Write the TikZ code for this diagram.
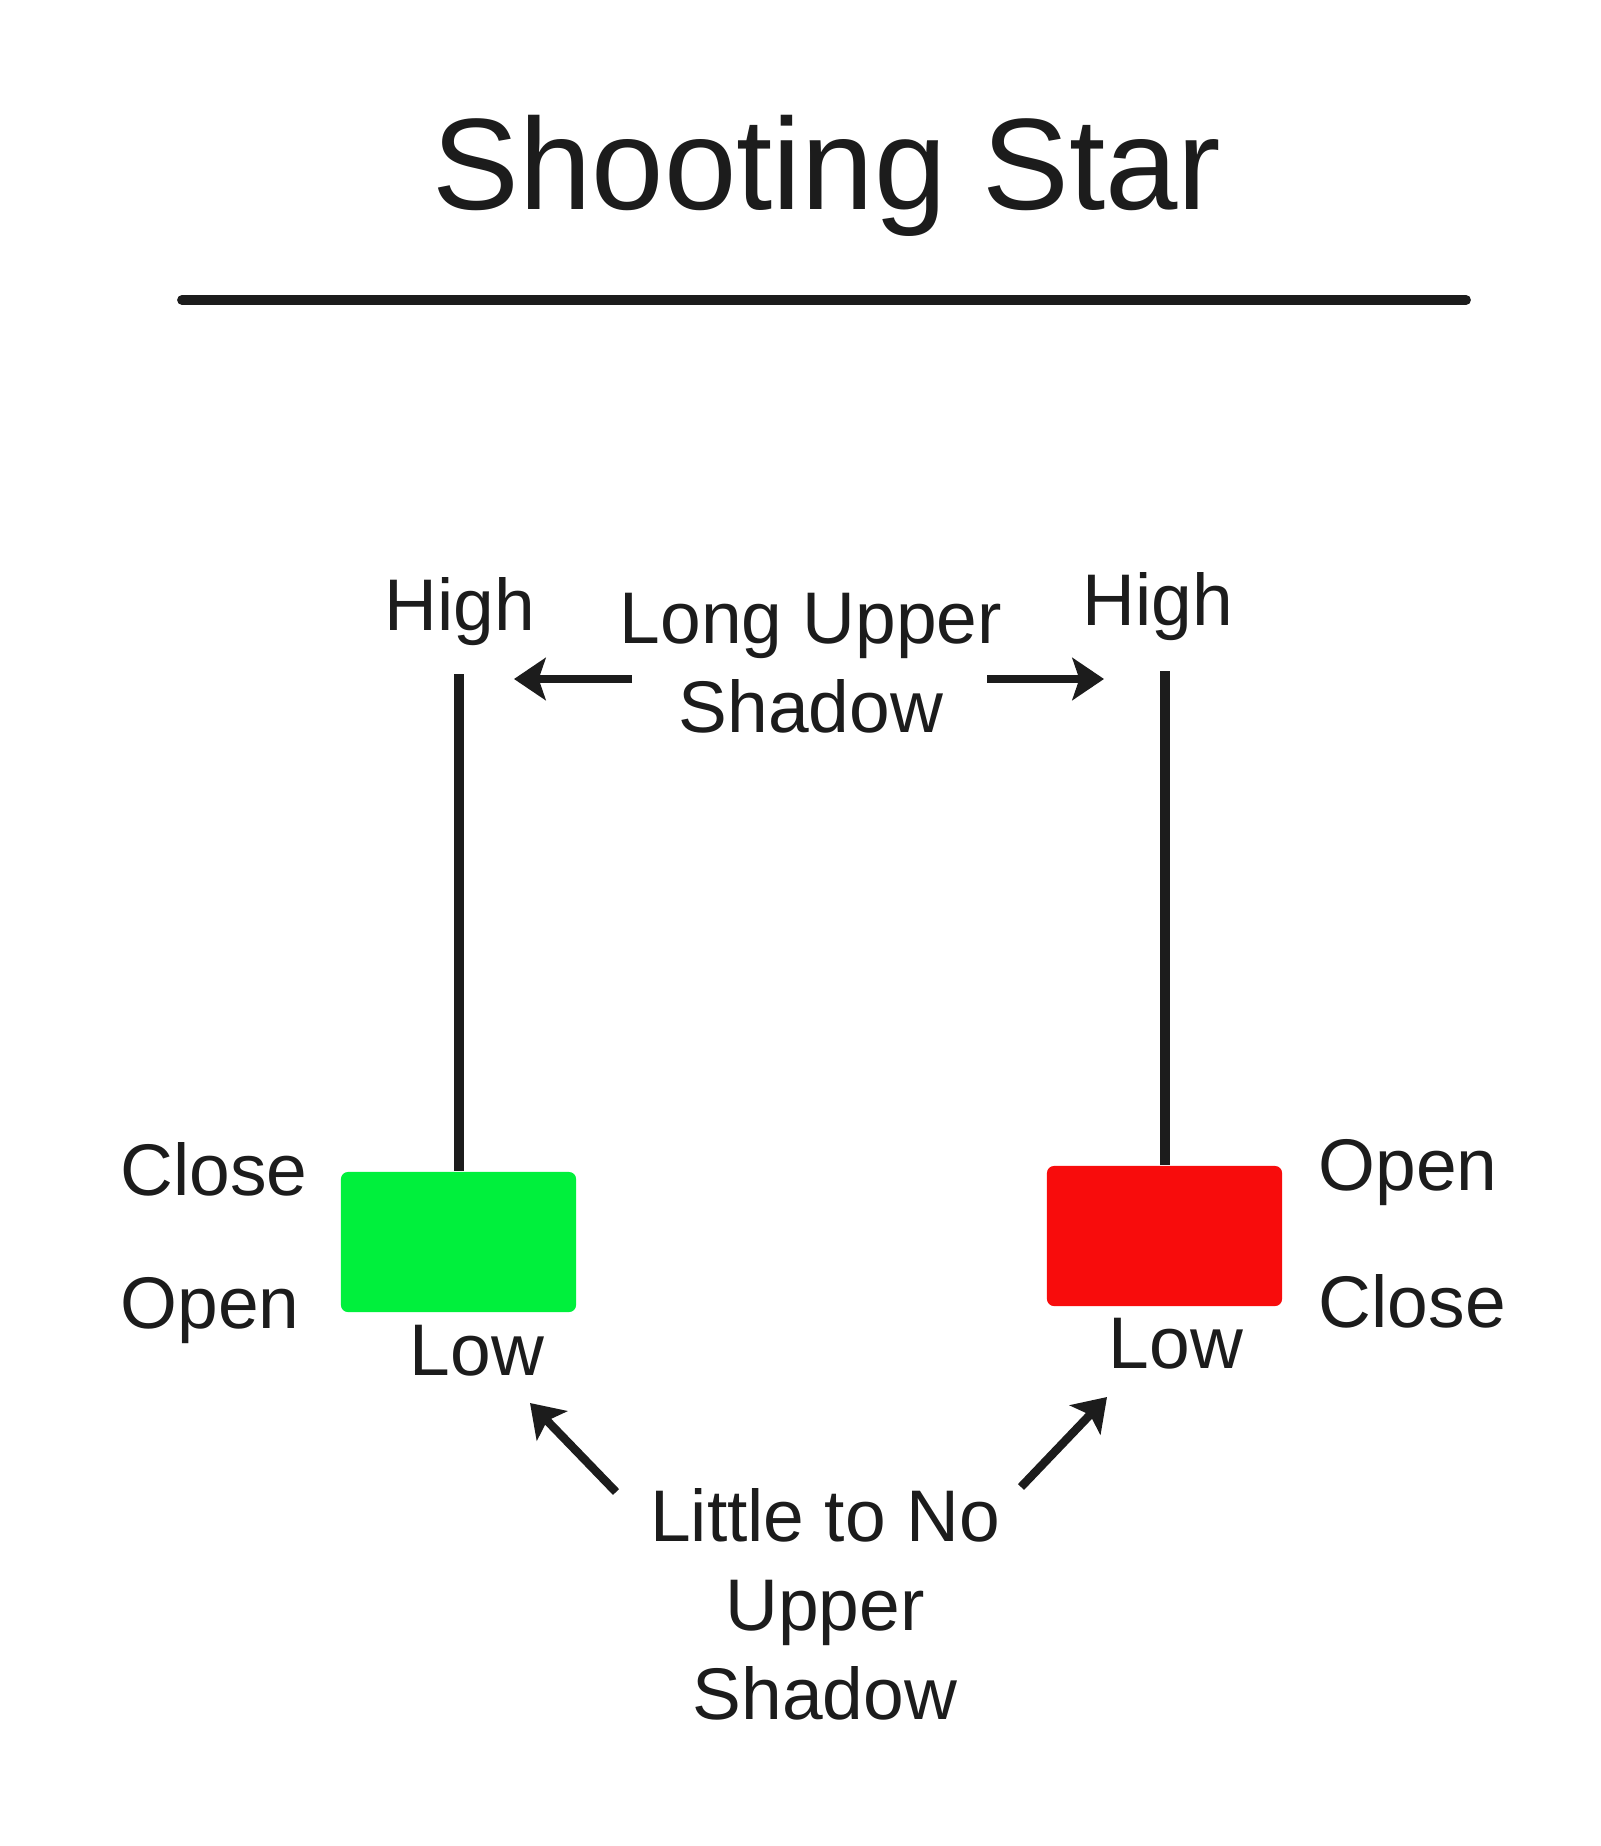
\documentclass[tikz,border=0pt]{standalone}
\usepackage{fontspec}
\setmainfont{Liberation Sans}
\usepackage{xcolor}
\usetikzlibrary{positioning,arrows.meta,calc}
\definecolor{bullgreen}{HTML}{00F03C}
\definecolor{bearred}{HTML}{F80C0C}
\definecolor{inkdark}{HTML}{1C1C1C}
\tikzset{
  >={Stealth[length=9pt, width=12pt, inset=2pt]},
  every node/.style={font=\fontsize{20.8}{25.3}\selectfont, text=inkdark, inner sep=0pt},
  titletxt/.style={font=\fontsize{37}{44}\selectfont, anchor=base},
  lbl/.style={anchor=base},
  lblleft/.style={anchor=base west},
  multi/.style={anchor=base, align=center},
  body/.style={rounded corners=2pt, minimum width=2.35cm, minimum height=1.4cm, inner sep=0pt},
  bullbody/.style={body, fill=bullgreen},
  bearbody/.style={body, fill=bearred},
  wick/.style={line width=2.6pt, draw=inkdark},
  rulebar/.style={line width=2.8pt, draw=inkdark, line cap=round},
  pointer/.style={->, line width=2.4pt, draw=inkdark},
}
\begin{document}
\begin{tikzpicture}[x=0.01cm, y=-0.01cm]
  \useasboundingbox (0,0) rectangle (1600,1846);

  % title and rule
  \node[titletxt] (title) at (827,210) {Shooting Star};
  \coordinate (ruleL) at (182,300);
  \coordinate (ruleR) at (1466,300);
  \draw[rulebar] (ruleL) -- (ruleR);

  % candle bodies
  \node[bullbody] (gbody) at (458.5,1242) {};
  \node[bearbody] (rbody) at (1164.5,1236) {};

  % upper shadows (wicks)
  \coordinate (ghigh) at (459,674);
  \coordinate (rhigh) at (1165,671);
  \draw[wick] (ghigh) -- (gbody.north -| ghigh);
  \draw[wick] (rhigh) -- (rbody.north -| rhigh);

  % labels of the green candle
  \node[lbl] (highL) at (460,630) {High};
  \node[lblleft] (closeL) at (120,1195) {Close};
  \node[lblleft] (openL) at (120,1328) {Open};
  \node[lbl] (lowL) at (477,1375) {Low};

  % labels of the red candle
  \node[lbl] (highR) at (1158,625) {High};
  \node[lblleft] (openR) at (1318,1190) {Open};
  \node[lblleft] (closeR) at (1318,1327) {Close};
  \node[lbl] (lowR) at (1176,1368) {Low};

  % long upper shadow (base = last line)
  \node[multi] (lus) at (811,732) {Long Upper\\Shadow};
  \coordinate (lusTailL) at (632,679);
  \coordinate (lusTipL) at (514,679);
  \coordinate (lusTailR) at (987,679);
  \coordinate (lusTipR) at (1104,679);
  \draw[pointer] (lusTailL) -- (lusTipL);
  \draw[pointer] (lusTailR) -- (lusTipR);

  % little to no upper shadow
  \node[multi] (ltn) at (825,1719) {Little to No\\Upper\\Shadow};
  \coordinate (ltnTailL) at (616,1492);
  \coordinate (ltnTipL) at (530,1403);
  \coordinate (ltnTailR) at (1021,1487);
  \coordinate (ltnTipR) at (1107,1397);
  \draw[pointer] (ltnTailL) -- (ltnTipL);
  \draw[pointer] (ltnTailR) -- (ltnTipR);
\end{tikzpicture}
\end{document}
